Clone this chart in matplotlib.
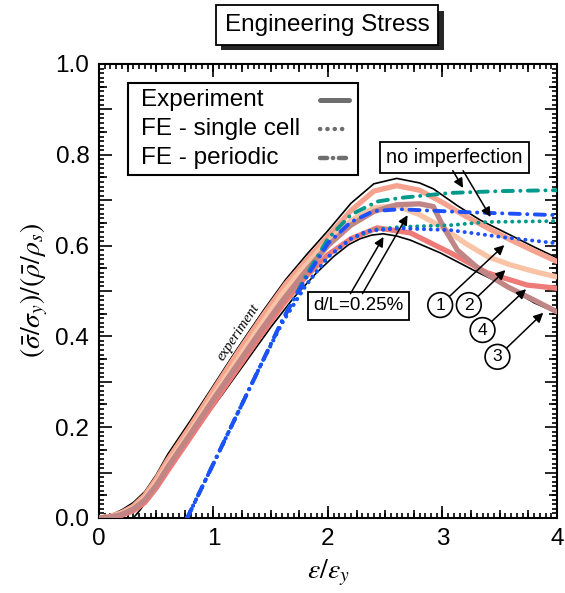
import numpy as np
import matplotlib
matplotlib.use("Agg")
import matplotlib.pyplot as plt
import matplotlib.patheffects as pe
from matplotlib.patches import Rectangle
from matplotlib.ticker import MultipleLocator, NullFormatter

plt.rcdefaults()
plt.rcParams['font.family'] = ['Liberation Sans', 'DejaVu Sans']
plt.rcParams['mathtext.fontset'] = 'stix'

# experimental envelope (black outlines)
env_hi_x = [0, 0.1, 0.2, 0.3, 0.4, 0.5, 0.6, 0.8, 1.0, 1.2, 1.43, 1.63, 1.82, 2.0, 2.2, 2.4, 2.6, 2.8, 2.92, 3.13, 3.33, 3.57, 3.8, 4.0]
env_hi_y = [0, 0.006, 0.018, 0.034, 0.058, 0.095, 0.14, 0.215, 0.292, 0.37, 0.455, 0.525, 0.582, 0.633, 0.693, 0.736, 0.748, 0.738, 0.725, 0.688, 0.656, 0.626, 0.597, 0.573]
env_lo_x = [0.30, 0.36, 0.42, 0.49, 0.56, 0.64, 0.73, 0.91, 1.1, 1.3, 1.5, 1.7, 1.9, 2.05, 2.18, 2.28, 2.38, 2.48, 2.6, 2.72, 2.98, 3.27, 3.57, 3.8, 4.0]
env_lo_y = [0, 0.018, 0.04, 0.065, 0.09, 0.12, 0.152, 0.215, 0.28, 0.35, 0.42, 0.485, 0.54, 0.576, 0.602, 0.615, 0.623, 0.626, 0.621, 0.612, 0.584, 0.546, 0.509, 0.474, 0.452]

# experiments 1-4
exp1_x = [0, 0.1, 0.2, 0.3, 0.4, 0.5, 0.6, 0.8, 1.0, 1.2, 1.43, 1.63, 1.82, 2.0, 2.2, 2.4, 2.6, 2.8, 3.0, 3.2, 3.4, 3.6, 3.8, 4.0]
exp1_y = [0, 0.004, 0.012, 0.026, 0.05, 0.086, 0.128, 0.203, 0.282, 0.36, 0.445, 0.515, 0.57, 0.62, 0.677, 0.72, 0.732, 0.722, 0.695, 0.665, 0.638, 0.612, 0.588, 0.565]
exp2_x = [0, 0.1, 0.2, 0.3, 0.4, 0.5, 0.6, 0.8, 1.0, 1.2, 1.4, 1.6, 1.8, 2.0, 2.2, 2.4, 2.6, 2.8, 3.0, 3.2, 3.4, 3.6, 3.8, 4.0]
exp2_y = [0, 0.003, 0.01, 0.022, 0.044, 0.078, 0.118, 0.192, 0.27, 0.345, 0.42, 0.493, 0.555, 0.61, 0.655, 0.683, 0.688, 0.668, 0.64, 0.605, 0.575, 0.557, 0.543, 0.531]
exp3_x = [0, 0.1, 0.2, 0.3, 0.4, 0.5, 0.6, 0.8, 1.0, 1.2, 1.4, 1.6, 1.8, 2.0, 2.2, 2.4, 2.6, 2.8, 2.92, 3.01, 3.13, 3.33, 3.57, 3.8, 4.0]
exp3_y = [0, 0.002, 0.008, 0.02, 0.04, 0.072, 0.112, 0.186, 0.262, 0.335, 0.408, 0.478, 0.542, 0.6, 0.645, 0.675, 0.69, 0.692, 0.686, 0.64, 0.59, 0.546, 0.509, 0.48, 0.454]
exp4_x = [0, 0.1, 0.2, 0.3, 0.4, 0.5, 0.6, 0.8, 1.0, 1.2, 1.4, 1.6, 1.8, 2.0, 2.2, 2.43, 2.72, 3.07, 3.39, 3.74, 4.0]
exp4_y = [0, 0.002, 0.006, 0.016, 0.034, 0.066, 0.104, 0.178, 0.252, 0.325, 0.398, 0.468, 0.53, 0.58, 0.615, 0.639, 0.628, 0.584, 0.54, 0.513, 0.506]

# FE results
fe_x_rise = [0.77, 1.0, 1.2, 1.4, 1.6, 1.8]
per_perfect_x = fe_x_rise + [2.0, 2.2, 2.43, 2.63, 3.07, 3.51, 4.0]
per_perfect_y = [0, 0.12, 0.225, 0.33, 0.435, 0.53, 0.615, 0.668, 0.697, 0.705, 0.716, 0.72, 0.722]
per_imp_x = fe_x_rise + [2.0, 2.2, 2.4, 2.63, 3.16, 4.0]
per_imp_y = [0, 0.12, 0.225, 0.33, 0.435, 0.525, 0.605, 0.652, 0.676, 0.68, 0.674, 0.667]
cell_perfect_x = fe_x_rise + [2.0, 2.2, 2.4, 2.63, 3.07, 3.39, 4.0]
cell_perfect_y = [0, 0.12, 0.225, 0.33, 0.43, 0.51, 0.575, 0.615, 0.635, 0.641, 0.645, 0.652, 0.654]
cell_imp_x = fe_x_rise + [2.0, 2.2, 2.34, 2.63, 3.07, 3.51, 4.0]
cell_imp_y = [0, 0.12, 0.225, 0.33, 0.43, 0.51, 0.575, 0.615, 0.632, 0.638, 0.634, 0.619, 0.605]

legend_labels = ['Experiment', 'FE - single cell', 'FE - periodic']

salmon = '#F5A28E'
peach = '#F9C3A6'
coral = '#EE7B78'
rosy = '#C08585'
teal = '#00998C'
blue = '#1E50FF'
grey = '#6E6E6E'

dashdot = (0, (2.6, 1.9, 0.05, 1.9))
dotted = (0, (0.05, 1.7))

fig = plt.figure(figsize=(5.65, 5.93), dpi=100)
ax = fig.add_axes([0.1752, 0.1265, 0.8106, 0.7656])

ax.plot(env_hi_x, env_hi_y, color='black', lw=1.2, zorder=2)
ax.plot(env_lo_x, env_lo_y, color='black', lw=1.2, zorder=2)

for xs, ys, c in [(exp1_x, exp1_y, salmon), (exp2_x, exp2_y, peach),
                  (exp4_x, exp4_y, coral), (exp3_x, exp3_y, rosy)]:
    ax.plot(xs, ys, color=c, lw=3.8, solid_capstyle='round', solid_joinstyle='round', zorder=3)

fe_kw = dict(lw=2.8, dash_capstyle='round', zorder=4)
ax.plot(cell_perfect_x, cell_perfect_y, color=teal, linestyle=dotted, **fe_kw)
ax.plot(per_perfect_x, per_perfect_y, color=teal, linestyle=dashdot, **fe_kw)
ax.plot(cell_imp_x, cell_imp_y, color=blue, linestyle=dotted, **fe_kw)
ax.plot(per_imp_x, per_imp_y, color=blue, linestyle=dashdot, **fe_kw)

ax.set_xlim(0, 4)
ax.set_ylim(0, 1)

# three tick lengths: long, mid (secondary axes) and minor
ax.xaxis.set_major_locator(MultipleLocator(1))
ax.xaxis.set_minor_locator(MultipleLocator(0.05))
ax.yaxis.set_major_locator(MultipleLocator(0.1))
ax.yaxis.set_minor_locator(MultipleLocator(0.01))
ax.yaxis.set_major_formatter(lambda v, p: '%.1f' % v if round(v * 10) % 2 == 0 else '')
ax.tick_params(which='both', direction='in', top=True, right=True,
               width=1.2, color='black', labelsize=17.5, labelcolor='black')
ax.tick_params(which='major', length=9, pad=7)
ax.tick_params(which='minor', length=3.5)
for side in ['top', 'bottom']:
    sec = ax.secondary_xaxis(side)
    sec.set_xticks(np.arange(0.25, 4, 0.25))
    sec.xaxis.set_major_formatter(NullFormatter())
    sec.tick_params(direction='in', length=6, width=1.2, color='black')
    sec.spines[side].set_visible(False)
for side in ['left', 'right']:
    sec = ax.secondary_yaxis(side)
    sec.set_yticks(np.arange(0.05, 1, 0.1))
    sec.yaxis.set_major_formatter(NullFormatter())
    sec.tick_params(direction='in', length=6, width=1.2, color='black')
    sec.spines[side].set_visible(False)

for s in ax.spines.values():
    s.set_linewidth(1.5)

ax.set_xlabel(r'$\varepsilon/\varepsilon_y$', fontsize=20, labelpad=6)
ax.set_ylabel(r'$(\bar{\sigma}/\sigma_y)/(\bar{\rho}/\rho_s)$', fontsize=20, labelpad=4)

# label written along the experimental band
ax.text(1.22, 0.41, 'experiment', rotation=56, fontsize=10.5, family='Liberation Serif',
        style='italic', ha='center', va='center', zorder=2.6,
        bbox=dict(boxstyle='square,pad=0.05', fc='white', ec='none'))

# legend: labels on the left, line samples in a column on the right
ax.add_patch(Rectangle((0.063, 0.755), 0.502, 0.203, transform=ax.transAxes,
                       fc='white', ec='black', lw=1.5, zorder=5))
legend_styles = [dict(linestyle='-', lw=3.6, solid_capstyle='round'),
                 dict(linestyle=(0, (0.05, 1.6)), lw=3.2, dash_capstyle='round'),
                 dict(linestyle=(0, (1.6, 1.3, 0.05, 1.3)), lw=3.2, dash_capstyle='round')]
for i, (lab, sty) in enumerate(zip(legend_labels, legend_styles)):
    yy = 0.921 - i * 0.0645
    ax.text(0.092, yy, lab, transform=ax.transAxes, fontsize=17.5, ha='left', va='center', zorder=6)
    ax.plot([0.483, 0.545], [yy, yy], transform=ax.transAxes, color=grey, zorder=6, **sty)

box_kw = dict(boxstyle='square,pad=0.3', fc='white', ec='black', lw=1.3)
arrow_kw = dict(arrowstyle='-|>', color='black', lw=1.1, mutation_scale=14, shrinkA=0, shrinkB=0)

ax.text(3.106, 0.795, 'no imperfection', fontsize=14.3, ha='center', va='center', bbox=box_kw, zorder=6)
ax.annotate('', xy=(3.18, 0.727), xytext=(3.09, 0.765), arrowprops=arrow_kw, zorder=6)
ax.annotate('', xy=(3.42, 0.663), xytext=(3.18, 0.765), arrowprops=arrow_kw, zorder=6)

ax.text(2.266, 0.467, 'd/L=0.25%', fontsize=13.5, ha='center', va='center', bbox=box_kw, zorder=6)
ax.annotate('', xy=(2.485, 0.619), xytext=(2.196, 0.494), arrowprops=arrow_kw, zorder=6)
ax.annotate('', xy=(2.695, 0.667), xytext=(2.301, 0.494), arrowprops=arrow_kw, zorder=6)

circle_kw = dict(boxstyle='circle,pad=0.28', fc='white', ec='black', lw=1.2)
for lab, center, head in [('1', (2.98, 0.469), (3.54, 0.601)),
                          ('2', (3.23, 0.469), (3.55, 0.546)),
                          ('4', (3.35, 0.414), (3.73, 0.504)),
                          ('3', (3.48, 0.355), (3.88, 0.452))]:
    ax.annotate(lab, xy=head, xytext=center, fontsize=12.5, ha='center', va='center',
                bbox=circle_kw, zorder=6,
                arrowprops=dict(arrowstyle='-|>', color='black', lw=1.1, mutation_scale=14,
                                shrinkA=0, shrinkB=0))

title = fig.text(0.5788, 0.958, 'Engineering Stress', fontsize=17.5, ha='center', va='center',
                 bbox=dict(boxstyle='square,pad=0.36', fc='white', ec='black', lw=1.3))
title.get_bbox_patch().set_path_effects([
    pe.SimplePatchShadow(offset=(4, -4), shadow_rgbFace='black', alpha=0.85), pe.Normal()])

fig.savefig('out.png', dpi=100)
